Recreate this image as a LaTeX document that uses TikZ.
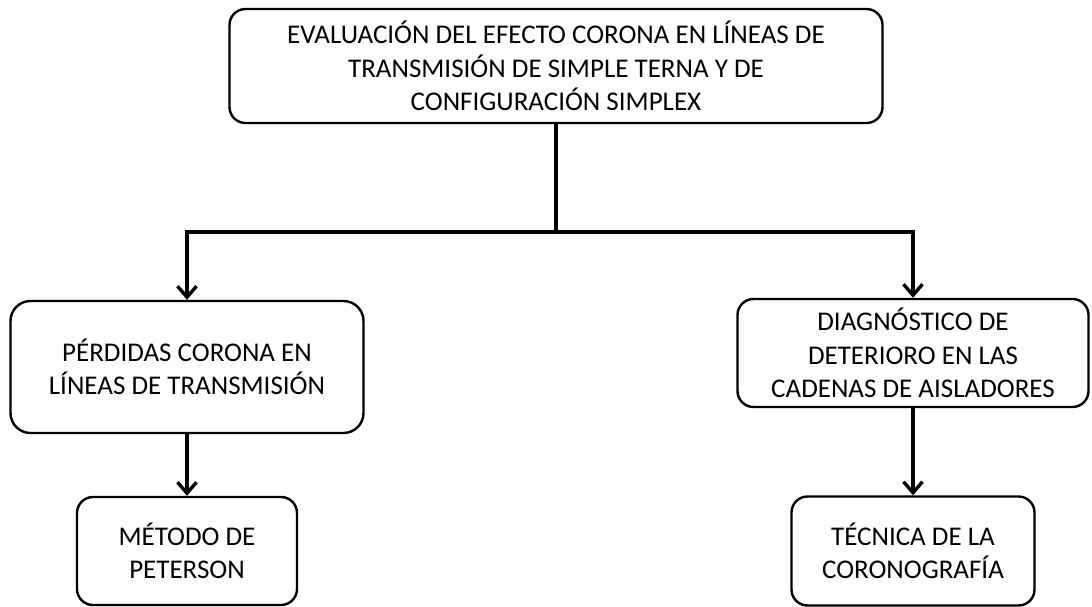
\documentclass[tikz,border=0pt]{standalone}
\usepackage{fontspec}
\setmainfont{Carlito}
\usetikzlibrary{arrows.meta}
\begin{document}
\begin{tikzpicture}[x=1pt,y=-1pt,
  box/.style={draw=black, line width=2.4pt, rounded corners=16pt, align=center, inner sep=0pt,
    font=\fontsize{27}{33.5}\selectfont},
  conn/.style={line width=3.4pt},
  arr/.style={conn, -{Straight Barb[length=11pt,width=19pt]}}]
\useasboundingbox[fill=white] (0,0) rectangle (1092,607);
\node[box, minimum width=653pt, minimum height=114pt] (top) at (556,66)
  {EVALUACIÓN DEL EFECTO CORONA EN LÍNEAS DE\\TRANSMISIÓN DE SIMPLE TERNA Y DE\\CONFIGURACIÓN SIMPLEX};
\node[box, minimum width=353pt, minimum height=132pt, rounded corners=20pt] (left) at (187,367)
  {PÉRDIDAS CORONA EN\\LÍNEAS DE TRANSMISIÓN};
\node[box, minimum width=351pt, minimum height=108pt] (right) at (913,353)
  {DIAGNÓSTICO DE\\DETERIORO EN LAS\\CADENAS DE AISLADORES};
\node[box, minimum width=220pt, minimum height=108pt] (bl) at (187,551)
  {MÉTODO DE\\PETERSON};
\node[box, minimum width=243pt, minimum height=109pt] (br) at (913,551)
  {TÉCNICA DE LA\\CORONOGRAFÍA};
\coordinate (j) at (556,232);
\draw[conn] (top.south) -- (j);
\draw[arr] (j) -| (left.north);
\draw[arr] (j) -| (right.north);
\draw[arr] (left.south) -- (bl.north);
\draw[arr] (right.south) -- (br.north);
\end{tikzpicture}
\end{document}
